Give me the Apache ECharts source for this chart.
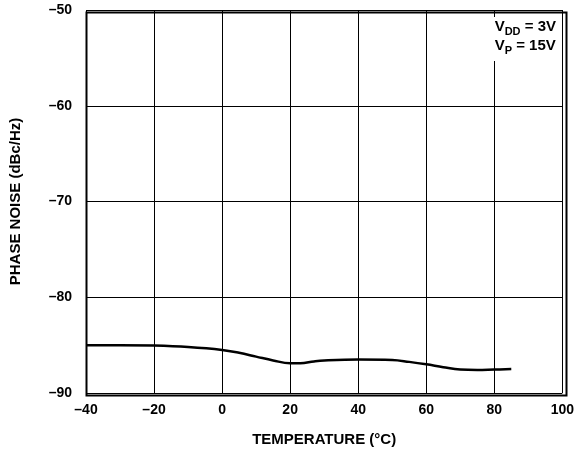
<!DOCTYPE html>
<html>
<head>
<meta charset="utf-8">
<script src="https://cdn.jsdelivr.net/npm/echarts@6/dist/echarts.min.js"></script>
<style>
  html, body { margin: 0; padding: 0; background: #fff; }
  #chart { width: 577px; height: 453px; }
</style>
</head>
<body>
<div id="chart"></div>
<script>
// temperature (°C) and phase noise (dBc/Hz)
let temps = [-40, -30, -20, -10, 0, 5, 10, 15, 20, 23, 27, 30, 40, 50, 55, 60, 65, 70, 75, 80, 85];
let noise = [-85.0, -85.0, -85.05, -85.2, -85.5, -85.8, -86.2, -86.6, -86.9, -86.9, -86.7, -86.6, -86.5, -86.55, -86.75, -87.0, -87.3, -87.55, -87.6, -87.55, -87.5];

let xTicks = { min: -40, max: 100, step: 20 };
let yTicks = { min: -90, max: -50, step: 10 };

let font = "'Liberation Sans', Arial, sans-serif";
let dash = (v) => String(v).replace('-', '\u2013');

let chart = echarts.init(document.getElementById('chart'), null, { renderer: 'canvas' });

chart.setOption({
    animation: false,
    backgroundColor: '#fff',
    grid: { left: 84, right: 13, top: 10, bottom: 60, containLabel: false },
    xAxis: {
        type: 'value',
        min: xTicks.min, max: xTicks.max, interval: xTicks.step,
        name: 'TEMPERATURE (°C)',
        nameLocation: 'middle',
        nameGap: 39,
        nameTextStyle: { color: '#000', fontFamily: font, fontWeight: 'bold', fontSize: 15 },
        axisLine: { show: false },
        axisTick: { show: false },
        axisLabel: { color: '#000', fontFamily: font, fontWeight: 'bold', fontSize: 14, margin: 10, formatter: dash },
        splitLine: { show: true, lineStyle: { color: '#000', width: 1 } }
    },
    yAxis: {
        type: 'value',
        min: yTicks.min, max: yTicks.max, interval: yTicks.step,
        name: 'PHASE NOISE (dBc/Hz)',
        nameLocation: 'middle',
        nameGap: 63,
        nameTextStyle: { color: '#000', fontFamily: font, fontWeight: 'bold', fontSize: 15 },
        axisLine: { show: false },
        axisTick: { show: false },
        axisLabel: { color: '#000', fontFamily: font, fontWeight: 'bold', fontSize: 14, margin: 14, formatter: dash },
        splitLine: { show: true, lineStyle: { color: '#000', width: 1 } }
    },
    graphic: [
        {
            type: 'rect',
            left: 84, top: 10,
            shape: { width: 480, height: 383 },
            style: { fill: 'none', stroke: '#000', lineWidth: 2 },
            z: 10
        },
        {
            type: 'text',
            right: 17, top: 17,
            z: 5,
            style: {
                text: '{a|V}{s|DD}{a| = 3V}\n{a|V}{s|P}{a| = 15V}',
                fill: '#000',
                backgroundColor: '#fff',
                padding: [2, 4, 4, 4],
                rich: {
                    a: { fontFamily: font, fontWeight: 'bold', fontSize: 15, lineHeight: 19, verticalAlign: 'top', fill: '#000' },
                    s: { fontFamily: font, fontWeight: 'bold', fontSize: 11, lineHeight: 19, verticalAlign: 'top', padding: [7, 0, 0, 0], fill: '#000' }
                }
            }
        }
    ],
    series: [{
        type: 'line',
        data: temps.map((t, i) => [t, noise[i]]),
        smooth: 0.4,
        symbol: 'none',
        lineStyle: { color: '#000', width: 2.5 }
    }]
});
</script>
</body>
</html>
